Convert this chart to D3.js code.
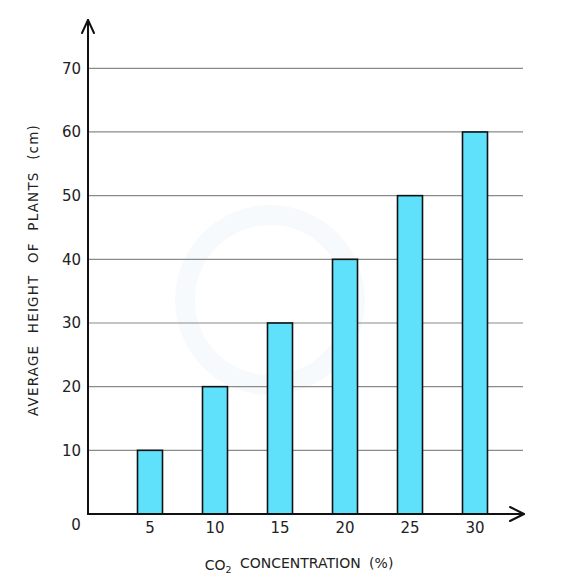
<!DOCTYPE html>
<html><head><meta charset="utf-8">
<script src="https://cdn.jsdelivr.net/npm/d3@7"></script>
<style>html,body{margin:0;padding:0;background:#fff;}svg{display:block;}</style>
</head><body>
<script>
const categories = [5, 10, 15, 20, 25, 30];
const heights = [10, 20, 30, 40, 50, 60];
const yTicks = [10, 20, 30, 40, 50, 60, 70];
const xLabel = "CO₂ CONCENTRATION (%)";
const yLabel = "AVERAGE HEIGHT OF PLANTS (cm)";

const W = 576, H = 579;
const svg = d3.select("body").append("svg").attr("width", W).attr("height", H);
const font = "'DejaVu Sans', sans-serif";

const x = d3.scaleLinear().domain([0, 35]).range([85, 540]);
const y = d3.scaleLinear().domain([0, 70]).range([514, 68.3]);
const axisX = 88, gridEnd = 523, barW = 25;

// watermark (very faint)
svg.append("circle").attr("cx", 270).attr("cy", 300).attr("r", 85)
  .attr("fill", "none").attr("stroke", "#f7fafc").attr("stroke-width", 20);

// gridlines
svg.append("g").selectAll("line").data(yTicks).join("line")
  .attr("x1", axisX).attr("x2", gridEnd)
  .attr("y1", d => y(d)).attr("y2", d => y(d))
  .attr("stroke", "#8a8a8a").attr("stroke-width", 1.2);

// y tick labels
svg.append("g").selectAll("text").data(yTicks).join("text")
  .attr("x", 81).attr("y", d => y(d)).attr("dy", "0.36em")
  .attr("text-anchor", "end").attr("font-family", font).attr("font-size", 15)
  .attr("fill", "#222").text(d => d);

// bars
svg.append("g").selectAll("rect").data(categories).join("rect")
  .attr("x", d => x(d) - barW / 2)
  .attr("y", (d, i) => y(heights[i]))
  .attr("width", barW)
  .attr("height", (d, i) => y(0) - y(heights[i]))
  .attr("fill", "#5fe1fc").attr("stroke", "#111").attr("stroke-width", 1.6);

// x tick labels
svg.append("g").selectAll("text").data(categories).join("text")
  .attr("x", d => x(d)).attr("y", 528).attr("dy", "0.36em")
  .attr("text-anchor", "middle").attr("font-family", font).attr("font-size", 15)
  .attr("fill", "#222").text(d => d);
svg.append("text").attr("x", 76).attr("y", 525).attr("dy", "0.36em")
  .attr("text-anchor", "middle").attr("font-family", font).attr("font-size", 15)
  .attr("fill", "#222").text("0");

// axes
const ax = svg.append("g").attr("stroke", "#111").attr("stroke-width", 2).attr("fill", "none")
  .attr("stroke-linecap", "round").attr("stroke-linejoin", "round");
ax.append("line").attr("x1", axisX).attr("x2", axisX).attr("y1", y(0)).attr("y2", 20);
ax.append("path").attr("d", `M${axisX - 6},33 L${axisX},20 L${axisX + 6},33`);
ax.append("line").attr("x1", axisX).attr("x2", 524).attr("y1", y(0)).attr("y2", y(0));
ax.append("path").attr("d", `M510,507 L524,${y(0)} L510,521`);

// x axis title
const xt = svg.append("text").attr("x", 299).attr("y", 565).attr("dy", "0.36em")
  .attr("text-anchor", "middle").attr("font-family", font).attr("font-size", 14)
  .attr("fill", "#222").attr("word-spacing", 4);
xt.append("tspan").text("CO");
xt.append("tspan").attr("font-size", 9.5).attr("dy", "0.35em").text("2");
xt.append("tspan").attr("dy", "-0.35em").text("  CONCENTRATION  (%)");

// y axis title
svg.append("text").attr("transform", "translate(38,270) rotate(-90)")
  .attr("text-anchor", "middle").attr("font-family", font).attr("font-size", 13.5)
  .attr("letter-spacing", 1.2).attr("word-spacing", 6)
  .attr("fill", "#222").text(yLabel);
</script>
</body></html>
